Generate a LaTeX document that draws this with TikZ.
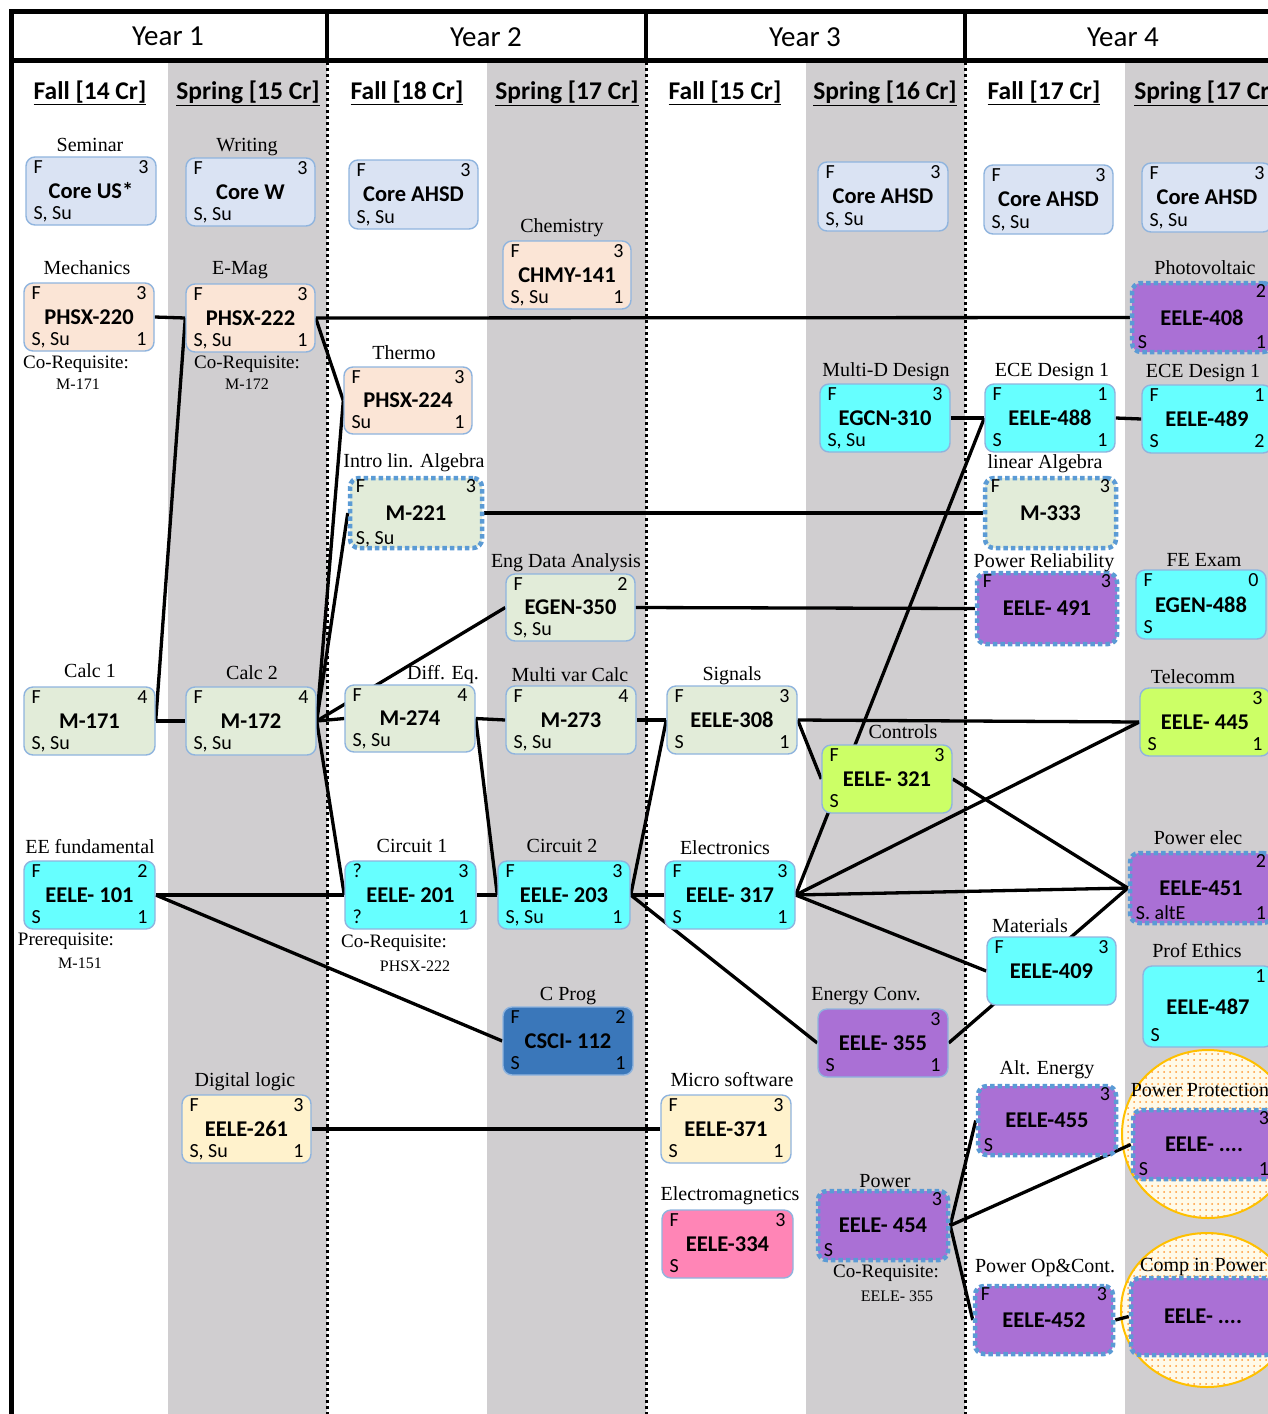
\documentclass[tikz,border=0pt]{standalone}
\usepackage{fontspec}
\setmainfont{Liberation Serif}
\newfontfamily\calib{Carlito}
\usetikzlibrary{calc,shapes.geometric,patterns.meta}
\pgfdeclarelayer{back}
\pgfdeclarelayer{lines}
\pgfsetlayers{back,lines,main}
\definecolor{colgray}{RGB}{208,206,208}
\definecolor{coreblue}{RGB}{218,227,243}
\definecolor{peach}{RGB}{251,229,214}
\definecolor{mathgreen}{RGB}{226,236,217}
\definecolor{ecyan}{RGB}{102,255,255}
\definecolor{cprog}{RGB}{58,119,186}
\definecolor{cream}{RGB}{255,242,204}
\definecolor{lime}{RGB}{204,255,102}
\definecolor{epurple}{RGB}{170,112,213}
\definecolor{epink}{RGB}{255,133,182}
\definecolor{thinblue}{RGB}{143,180,222}
\definecolor{dotblue}{RGB}{91,155,213}
\definecolor{gold}{RGB}{255,192,0}
\definecolor{ellfill}{RGB}{255,250,232}
\tikzset{
  crsbox/.style={rounded corners=9pt, draw=thinblue, line width=1.4pt, inner sep=0pt,
    font=\calib\bfseries\fontsize{22.5}{24}\selectfont, text=black},
  dotb/.style={draw=dotblue, line width=4.5pt, dash pattern=on 4.5pt off 3pt},
  corner/.style={font=\calib\fontsize{20}{22}\selectfont, inner sep=1pt, text height=13pt, text depth=4pt},
  cTL/.style={label={[corner,anchor=north west,xshift=7pt,yshift=-3pt]north west:#1}},
  cTR/.style={label={[corner,anchor=north east,xshift=-7pt,yshift=-3pt]north east:#1}},
  cBL/.style={label={[corner,anchor=south west,xshift=7pt,yshift=1pt]south west:#1}},
  cBR/.style={label={[corner,anchor=south east,xshift=-7pt,yshift=1pt]south east:#1}},
  ttl/.style={font=\fontsize{20}{22}\selectfont, inner sep=0pt},
  req/.style={font=\fontsize{19}{21}\selectfont, inner sep=0pt},
  reqs/.style={font=\fontsize{16}{18}\selectfont, inner sep=0pt},
  sem/.style={font=\calib\bfseries\fontsize{25.5}{27}\selectfont, inner sep=0pt},
  yr/.style={font=\calib\fontsize{29}{31}\selectfont, inner sep=0pt},
  link/.style={line width=3.3pt, black},
  sepdot/.style={line width=3pt, black, dash pattern=on 3pt off 3pt},
  frame/.style={line width=4.5pt, black},
  ell/.style={ellipse, draw=gold, line width=2pt, preaction={fill=ellfill},
    pattern={Dots[radius=1pt,distance=6pt]}, pattern color=orange!80}
}
\newcommand\crs[5]{%
  \path let \p1=(#3), \p2=(#4) in
    node[crsbox,#1,minimum width=\x2-\x1,minimum height=\y1-\y2] (#2) at ($(#3)!0.5!(#4)$) {#5};}
\begin{document}
\begin{tikzpicture}[x=1pt,y=-1pt]
\useasboundingbox (0,0) rectangle (1268,1414);
\begin{pgfonlayer}{back}
\fill[white] (0,0) rectangle (1268,1414);
\fill[colgray] (168,62) rectangle (327,1414);
\fill[colgray] (487,62) rectangle (646,1414);
\fill[colgray] (806,62) rectangle (965,1414);
\fill[colgray] (1125,62) rectangle (1268,1414);
\draw[sepdot] (327,62) -- (327,1414);
\draw[sepdot] (646,62) -- (646,1414);
\draw[sepdot] (965,62) -- (965,1414);
\draw[frame] (11.5,1414) -- (11.5,11.5) -- (1268,11.5);
\draw[frame] (11.5,60.5) -- (1268,60.5);
\draw[line width=3.5pt] (327,11.5) -- (327,60.5);
\draw[line width=3.5pt] (646,11.5) -- (646,60.5);
\draw[line width=3.5pt] (965,11.5) -- (965,60.5);
\node[ell, minimum width=172pt, minimum height=168pt] (ppell) at (1208,1134) {};
\node[ell, minimum width=172pt, minimum height=154pt] (cpell) at (1207,1310) {};
\end{pgfonlayer}

% header texts
\node[yr] (y1) at (168,36) {Year 1};
\node[yr] (y2) at (486,37) {Year 2};
\node[yr] (y3) at (805,37) {Year 3};
\node[yr] (y4) at (1123,37) {Year 4};
\node[sem] (s1) at (90,93) {\underline{Fall [14 Cr]}};
\node[sem] (s2) at (248,93) {\underline{Spring [15 Cr]}};
\node[sem] (s3) at (407,93) {\underline{Fall [18 Cr]}};
\node[sem] (s4) at (567,93) {\underline{Spring [17 Cr]}};
\node[sem] (s5) at (725,93) {\underline{Fall [15 Cr]}};
\node[sem] (s6) at (885,93) {\underline{Spring [16 Cr]}};
\node[sem] (s7) at (1044,93) {\underline{Fall [17 Cr]}};
\node[sem] (s8) at (1206,93) {\underline{Spring [17 Cr]}};

% courses
\crs{fill=coreblue,cTL=F,cTR=3,cBL={S, Su}}{coreus}{26,157}{156,225}{Core US*}
\crs{fill=coreblue,cTL=F,cTR=3,cBL={S, Su}}{corew}{186,158}{315,226}{Core W}
\crs{fill=coreblue,cTL=F,cTR=3,cBL={S, Su}}{coreb}{349,160}{478,229}{Core AHSD}
\crs{fill=peach,cTL=F,cTR=3,cBL={S, Su},cBR=1}{chmy}{503,241}{631,309}{CHMY-141}
\crs{fill=coreblue,cTL=F,cTR=3,cBL={S, Su}}{corec}{818,162}{948,231}{Core AHSD}
\crs{fill=coreblue,cTL=F,cTR=3,cBL={S, Su}}{cored}{984,165}{1113,234}{Core AHSD}
\crs{fill=coreblue,cTL=F,cTR=3,cBL={S, Su}}{coree}{1142,163}{1272,232}{Core AHSD}
\crs{fill=peach,cTL=F,cTR=3,cBL={S, Su},cBR=1}{phsx220}{24,283}{154,351}{PHSX-220}
\crs{fill=peach,cTL=F,cTR=3,cBL={S, Su},cBR=1}{phsx222}{186,284}{315,352}{PHSX-222}
\crs{fill=peach,cTL=F,cTR=3,cBL=Su,cBR=1}{phsx224}{344,367}{472,434}{PHSX-224}
\crs{fill=mathgreen,dotb,cTL=F,cTR=3,cBL={S, Su}}{m221}{350,478}{482,548}{M-221}
\crs{fill=mathgreen,cTL=F,cTR=2,cBL={S, Su}}{egen350}{506,574}{635,641}{EGEN-350}
\crs{fill=mathgreen,cTL=F,cTR=4,cBL={S, Su}}{m171}{24,687}{155,755}{M-171}
\crs{fill=mathgreen,cTL=F,cTR=4,cBL={S, Su}}{m172}{186,687}{316,755}{M-172}
\crs{fill=mathgreen,cTL=F,cTR=4,cBL={S, Su}}{m274}{345,685}{475,752}{M-274}
\crs{fill=mathgreen,cTL=F,cTR=4,cBL={S, Su}}{m273}{506,686}{636,754}{M-273}
\crs{fill=ecyan,cTL=F,cTR=2,cBL=S,cBR=1}{eele101}{24,861}{155,929}{EELE- 101}
\crs{fill=ecyan,cTL=?,cTR=3,cBL=?,cBR=1}{eele201}{345,861}{476,929}{EELE- 201}
\crs{fill=ecyan,cTL=F,cTR=3,cBL={S, Su},cBR=1}{eele203}{498,861}{630,929}{EELE- 203}
\crs{fill=cprog,cTL=F,cTR=2,cBL=S,cBR=1}{csci112}{503,1007}{633,1075}{CSCI- 112}
\crs{fill=cream,cTL=F,cTR=3,cBL={S, Su},cBR=1}{eele261}{182,1095}{311,1163}{EELE-261}
\crs{fill=ecyan,cTL=F,cTR=3,cBL={S, Su}}{egcn310}{820,384}{950,452}{EGCN-310}
\crs{fill=ecyan,cTL=F,cTR=1,cBL=S,cBR=1}{eele488}{985,384}{1115,452}{EELE-488}
\crs{fill=ecyan,cTL=F,cTR=1,cBL=S,cBR=2}{eele489}{1142,385}{1272,453}{EELE-489}
\crs{fill=epurple,dotb,cTR=2,cBL=S,cBR=1}{eele408}{1132,283}{1272,352}{EELE-408}
\crs{fill=mathgreen,dotb,cTL=F,cTR=3}{m333}{985,478}{1116,548}{M-333}
\crs{fill=epurple,dotb,cTL=F,cTR=3}{eele491}{977,573}{1117,644}{EELE- 491}
\crs{fill=ecyan,cTL=F,cTR=0,cBL=S}{egen488}{1136,570}{1266,639}{EGEN-488}
\crs{fill=mathgreen,cTL=F,cTR=3,cBL=S,cBR=1}{eele308}{667,686}{797,754}{EELE-308}
\crs{fill=lime,cTL=F,cTR=3,cBL=S}{eele321}{822,745}{952,813}{EELE- 321}
\crs{fill=lime,cTR=3,cBL=S,cBR=1}{eele445}{1140,688}{1270,756}{EELE- 445}
\crs{fill=ecyan,cTL=F,cTR=3,cBL=S,cBR=1}{eele317}{665,861}{795,929}{EELE- 317}
\crs{fill=epurple,dotb,cTR=2,cBL={S. altE},cBR=1}{eele451}{1130,853}{1272,923}{EELE-451}
\crs{fill=ecyan,cTL=F,cTR=3}{eele409}{987,937}{1116,1005}{EELE-409}
\crs{fill=ecyan,cTR=1,cBL=S}{eele487}{1143,966}{1273,1047}{EELE-487}
\crs{fill=epurple,cTR=3,cBL=S,cBR=1}{eele355}{818,1009}{948,1077}{EELE- 355}
\crs{fill=cream,cTL=F,cTR=3,cBL=S,cBR=1}{eele371}{661,1095}{791,1163}{EELE-371}
\crs{fill=epink,cTL=F,cTR=3,cBL=S}{eele334}{662,1210}{793,1278}{EELE-334}
\crs{fill=epurple,dotb,cTR=3,cBL=S}{eele454}{818,1191}{948,1260}{EELE- 454}
\crs{fill=epurple,dotb,cTR=3,cBL=S}{eele455}{978,1086}{1116,1155}{EELE-455}
\crs{fill=epurple,dotb,cTL=F,cTR=3}{eele452}{975,1286}{1113,1354}{EELE-452}
\crs{fill=epurple,dotb,cTR=3,cBL=S,cBR=1}{pp}{1133,1110}{1275,1179}{EELE- ....}
\crs{fill=epurple,dotb}{cp}{1131,1278}{1275,1355}{EELE- ....}

% titles
\node[ttl] (t1) at (90,145) {Seminar};
\node[ttl] (t2) at (247,147) {Writing};
\node[ttl] (t3) at (562,228) {Chemistry};
\node[ttl] (t4) at (87,268) {Mechanics};
\node[ttl] (t5) at (240,270) {E-Mag};
\node[ttl] (t6) at (404,353) {Thermo};
\node[ttl] (t7) at (414,463) {Intro lin. Algebra};
\node[ttl] (t8) at (566,563) {Eng Data Analysis};
\node[ttl] (t9) at (90,671) {Calc 1};
\node[ttl] (t10) at (252,673) {Calc 2};
\node[ttl] (t11) at (443,675) {Diff. Eq.};
\node[ttl] (t12) at (570,675) {Multi var Calc};
\node[ttl] (t13) at (90,847) {EE fundamental};
\node[ttl] (t14) at (412,846) {Circuit 1};
\node[ttl] (t15) at (562,846) {Circuit 2};
\node[ttl] (t16) at (568,996) {C Prog};
\node[ttl] (t17) at (245,1082) {Digital logic};
\node[ttl] (t18) at (886,372) {Multi-D Design};
\node[ttl] (t19) at (1052,372) {ECE Design 1};
\node[ttl] (t20) at (1203,373) {ECE Design 1};
\node[ttl] (t21) at (1205,268) {Photovoltaic};
\node[ttl] (t22) at (1045,464) {linear Algebra};
\node[ttl] (t23) at (1044,563) {Power Reliability};
\node[ttl] (t24) at (1204,560) {FE Exam};
\node[ttl] (t25) at (732,676) {Signals};
\node[ttl] (t26) at (903,732) {Controls};
\node[ttl] (t27) at (1193,677) {Telecomm};
\node[ttl] (t28) at (725,848) {Electronics};
\node[ttl] (t29) at (1198,838) {Power elec};
\node[ttl] (t30) at (1030,926) {Materials};
\node[ttl] (t31) at (1197,951) {Prof Ethics};
\node[ttl] (t32) at (866,996) {Energy Conv.};
\node[ttl] (t33) at (732,1080) {Micro software};
\node[ttl] (t34) at (730,1196) {Electromagnetics};
\node[ttl] (t35) at (885,1181) {Power};
\node[ttl] (t36) at (1047,1070) {Alt. Energy};
\node[ttl] (t37) at (1045,1268) {Power Op\&Cont.};
\node[ttl] (t38) at (1200,1090) {Power Protection};
\node[ttl] (t39) at (1203,1267) {Comp in Power};

% requisite notes
\node[req] (r1) at (76,364) {Co-Requisite:};
\node[reqs] (r1b) at (78,384) {M-171};
\node[req] (r2) at (247,364) {Co-Requisite:};
\node[reqs] (r2b) at (247,384) {M-172};
\node[req] (r3) at (66,941) {Prerequisite:};
\node[reqs] (r3b) at (80,963) {M-151};
\node[req] (r4) at (394,943) {Co-Requisite:};
\node[reqs] (r4b) at (415,966) {PHSX-222};
\node[req] (r5) at (886,1273) {Co-Requisite:};
\node[reqs] (r5b) at (897,1296) {EELE- 355};

% connectors
\begin{pgfonlayer}{lines}
\draw[link] (phsx220.east) -- (phsx222.west);
\draw[link] (m171.east) -- (phsx222.west);
\draw[link] (m171.east) -- (m172.west);
\draw[link] (phsx222.east) -- (eele408.west);
\draw[link] (phsx222.east) -- (phsx224.west);
\draw[link] (m172.east) -- (phsx224.west);
\draw[link] (m172.east) -- (m221.west);
\draw[link] (m172.east) -- (m274.west);
\draw[link] (m172.east) -- (egen350.west);
\draw[link] (m172.east) -- (eele201.west);
\draw[link] (m221.east) -- (m333.west);
\draw[link] (egen350.east) -- (eele491.west);
\draw[link] (m274.east) -- (m273.west);
\draw[link] (m274.east) -- (eele203.west);
\draw[link] (eele101.east) -- (eele201.west);
\draw[link] (eele101.east) -- (csci112.west);
\draw[link] (eele201.east) -- (eele203.west);
\draw[link] (m273.east) -- (eele308.west);
\draw[link] (eele203.east) -- (eele308.west);
\draw[link] (eele203.east) -- (eele317.west);
\draw[link] (eele203.east) -- (eele355.west);
\draw[link] (eele308.east) -- (eele445.west);
\draw[link] (eele308.east) -- (eele321.west);
\draw[link] (eele317.east) -- (eele488.west);
\draw[link] (eele317.east) -- (eele445.west);
\draw[link] (eele317.east) -- (eele451.west);
\draw[link] (eele317.east) -- (eele409.west);
\draw[link] (eele321.east) -- (eele451.west);
\draw[link] (egcn310.east) -- (eele488.west);
\draw[link] (eele488.east) -- (eele489.west);
\draw[link] (eele355.east) -- (eele451.west);
\draw[link] (eele261.east) -- (eele371.west);
\draw[link] (eele454.east) -- (eele455.west);
\draw[link] (eele454.east) -- (pp.west);
\draw[link] (eele454.east) -- (eele452.west);
\draw[link] (eele452.east) -- (cp.west);
\end{pgfonlayer}
\end{tikzpicture}
\end{document}
